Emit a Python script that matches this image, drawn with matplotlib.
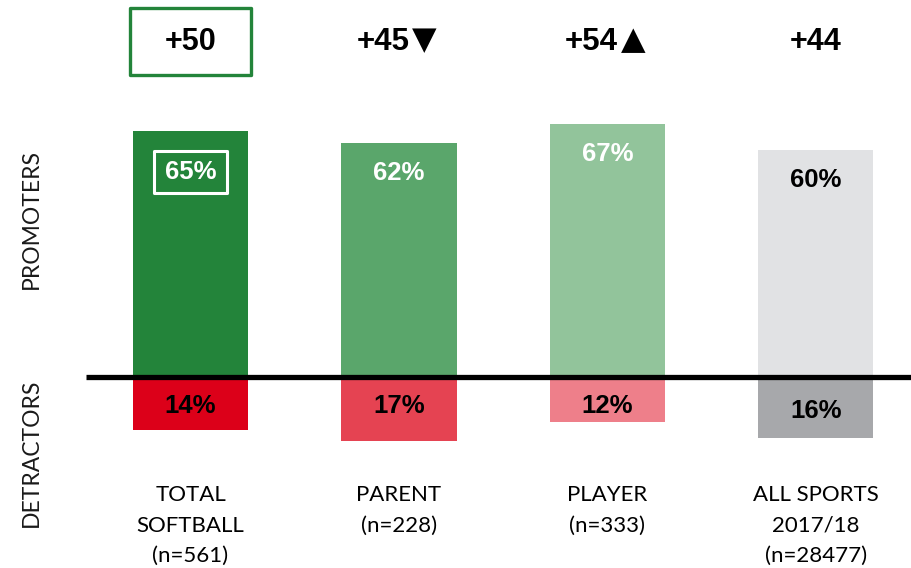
import matplotlib
matplotlib.use("Agg")
import matplotlib.pyplot as plt
from matplotlib.patches import Rectangle

categories = ["TOTAL\nSOFTBALL\n(n=561)", "PARENT\n(n=228)", "PLAYER\n(n=333)", "ALL SPORTS\n2017/18\n(n=28477)"]
promoters = [65, 62, 67, 60]
detractors = [14, 17, 12, 16]
nps_values = ["+50", "+45", "+54", "+44"]
nps_trend = ["", "\u25BC", "\u25B2", ""]

prom_colors = ["#23843a", "#5aa66b", "#92c49b", "#e1e2e4"]
det_colors = ["#dc0019", "#e54352", "#ee7f8a", "#a7a8ab"]
prom_text_colors = ["white", "white", "white", "black"]

BOLD = ["Liberation Sans", "DejaVu Sans"]
REG = ["Lato", "DejaVu Sans"]

fig = plt.figure(figsize=(9.11, 5.68), dpi=100)
ax = fig.add_axes([0, 0, 1, 1])
ax.set_xlim(-0.914, 3.456)
ax.set_ylim(-50.5, 99.7)
ax.axis("off")

x = list(range(len(categories)))
w = 0.552
ax.bar(x, promoters, width=w, color=prom_colors, zorder=2)
ax.bar(x, [-d for d in detractors], width=w, color=det_colors, zorder=2)

ax.plot([-0.501, 3.456], [0, 0], color="black", lw=3.8, solid_capstyle="butt", zorder=3)

for i, (p, d) in enumerate(zip(promoters, detractors)):
    py = p - (10.8 if i == 0 else 8.0)
    ax.text(i, py, f"{p}%", ha="center", va="center", fontsize=18.5,
            fontweight="bold", family=BOLD, color=prom_text_colors[i], zorder=4)
    dy = -9.0 if i == 3 else -7.6
    ax.text(i, dy, f"{d}%", ha="center", va="center", fontsize=18.5,
            fontweight="bold", family=BOLD, color="black", zorder=4)
    if nps_trend[i]:
        ax.text(i + 0.05, 88.6, nps_values[i], ha="right", va="center", fontsize=22.5,
                fontweight="bold", family=BOLD, color="black", zorder=4)
        ax.text(i + 0.063, 88.9, nps_trend[i], ha="left", va="center", fontsize=23,
                family=["DejaVu Sans"], color="black", zorder=4)
    else:
        ax.text(i, 88.6, nps_values[i], ha="center", va="center", fontsize=22,
                fontweight="bold", family=BOLD, color="black", zorder=4)
    ax.text(i, -28.6, categories[i], ha="center", va="top", fontsize=16,
            family=REG, color="black", linespacing=1.65, zorder=4)

# highlight boxes on first bar
ax.add_patch(Rectangle((-0.29, 79.9), 0.578, 17.7, fill=False, ec="#23843a",
                       lw=2.4, joinstyle="round", zorder=4))
ax.add_patch(Rectangle((-0.175, 48.7), 0.35, 11.1, fill=False, ec="white",
                       lw=2.2, joinstyle="round", zorder=4))

ax.text(-0.765, 41.8, "PROMOTERS", rotation=90, ha="center", va="center",
        fontsize=16.5, family=REG, color="#1a1a1a")
ax.text(-0.765, -20.1, "DETRACTORS", rotation=90, ha="center", va="center",
        fontsize=16.5, family=REG, color="#1a1a1a")

fig.savefig("out.png", dpi=100)
